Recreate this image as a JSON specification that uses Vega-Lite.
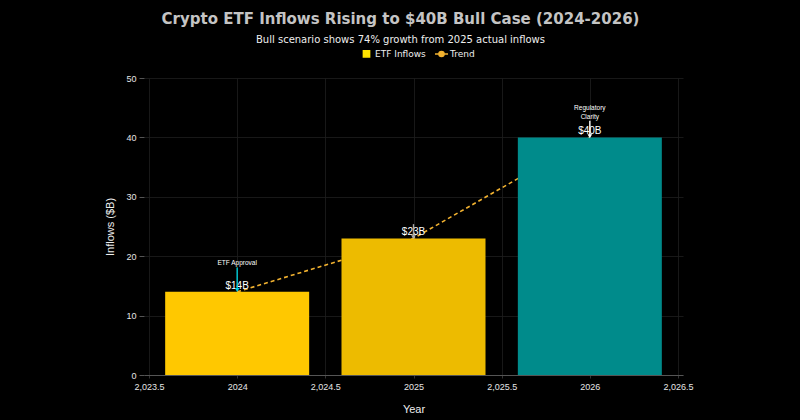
{
  "$schema": "https://vega.github.io/schema/vega-lite/v6.json",
  "autosize": {"type": "none"},
  "padding": {"left": 144, "top": 78, "right": 117, "bottom": 45},
  "width": 539,
  "height": 297,
  "background": "#000000",
  "title": {
    "text": "Crypto ETF Inflows Rising to $40B Bull Case (2024-2026)",
    "subtitle": "Bull scenario shows 74% growth from 2025 actual inflows",
    "anchor": "middle",
    "dx": -13,
    "font": "DejaVu Sans",
    "fontSize": 15,
    "fontWeight": "bold",
    "color": "#C4C4C4",
    "subtitleFont": "DejaVu Sans",
    "subtitleFontSize": 10,
    "subtitleColor": "#EEEEEE",
    "subtitlePadding": 8,
    "offset": 4
  },
  "datasets": {
    "bars": [
      {"Year": 2024, "Inflows": 14, "Label": "$14B"},
      {"Year": 2025, "Inflows": 23, "Label": "$23B"},
      {"Year": 2026, "Inflows": 40, "Label": "$40B"}
    ],
    "notes": [
      {"Year": 2024, "Text": "ETF Approval", "TextY": 18.3, "ArrowTop": 18.1, "ArrowTip": 14.3, "Kind": "approval"},
      {"Year": 2025, "Text": "", "TextY": 25.6, "ArrowTop": 25.4, "ArrowTip": 23.2, "Kind": "actual"},
      {"Year": 2026, "Text": "Regulatory\nClarity", "TextY": 44.4, "ArrowTop": 42.8, "ArrowTip": 40.2, "Kind": "clarity"}
    ]
  },
  "encoding": {
    "x": {
      "field": "Year",
      "type": "quantitative",
      "scale": {"domain": [2023.5, 2026.5], "nice": false, "zero": false},
      "axis": {
        "title": "Year",
        "values": [2023.5, 2024, 2024.5, 2025, 2025.5, 2026, 2026.5],
        "labelExpr": "datum.value % 1 === 0 ? format(datum.value, 'd') : format(datum.value, ',.1f')",
        "labelFont": "Liberation Sans",
        "labelFontSize": 9,
        "labelColor": "#E6E6E6",
        "labelPadding": 4,
        "titleFont": "Liberation Sans",
        "titleFontSize": 11,
        "titleFontWeight": "normal",
        "titleColor": "#EEEEEE",
        "titlePadding": 12,
        "domainColor": "#555555",
        "tickColor": "#333333",
        "tickSize": 3,
        "grid": true,
        "gridColor": "#1E1E1E",
        "gridWidth": 0.8
      }
    }
  },
  "layer": [
    {
      "data": {"name": "bars"},
      "mark": {"type": "line", "strokeDash": [4, 3], "strokeWidth": 1.6},
      "encoding": {
        "y": {
          "field": "Inflows",
          "type": "quantitative",
          "scale": {"domain": [0, 50], "nice": false},
          "axis": {
            "title": "Inflows ($B)",
            "values": [0, 10, 20, 30, 40, 50],
            "labelFont": "Liberation Sans",
            "labelFontSize": 9,
            "labelColor": "#E6E6E6",
            "labelPadding": 3,
            "titleFont": "Liberation Sans",
            "titleFontSize": 11,
            "titleFontWeight": "normal",
            "titleColor": "#EEEEEE",
            "titlePadding": 10,
            "domain": false,
            "tickColor": "#555555",
            "tickSize": 5,
            "grid": true,
            "gridColor": "#1E1E1E",
            "gridWidth": 0.8
          }
        },
        "color": {"datum": "Trend"}
      }
    },
    {
      "data": {"name": "bars"},
      "mark": {"type": "bar", "width": 144},
      "encoding": {
        "y": {"field": "Inflows", "type": "quantitative"},
        "color": {
          "field": "Year",
          "type": "nominal",
          "scale": {
            "domain": ["ETF Inflows", "Trend", 2024, 2025, 2026],
            "range": ["#FFE400", "#F2B230", "#FFC800", "#EDBB00", "#008B8B"]
          },
          "legend": {
            "values": ["ETF Inflows", "Trend"],
            "orient": "none",
            "legendX": 218,
            "legendY": -29,
            "direction": "horizontal",
            "title": null,
            "labelFont": "DejaVu Sans",
            "labelFontSize": 9,
            "labelColor": "#EEEEEE",
            "symbolSize": 60,
            "columnPadding": 6,
            "labelOffset": 4,
            "encode": {
              "symbols": {
                "update": {
                  "shape": {"signal": "datum.value === 'Trend' ? 'M-1,0L-0.4,0M0.4,0L1,0M0.4,0A0.4,0.4 0 1,1 -0.4,0A0.4,0.4 0 1,1 0.4,0' : 'square'"},
                  "size": {"signal": "datum.value === 'Trend' ? 170 : 40"},
                  "fill": {"signal": "datum.value === 'Trend' ? '#00E0E8' : '#FFE400'"},
                  "stroke": {"signal": "datum.value === 'Trend' ? '#F2C230' : 'transparent'"},
                  "strokeWidth": {"value": 1.4},
                  "opacity": {"value": 1}
                }
              }
            }
          }
        }
      }
    },
    {
      "data": {"name": "bars"},
      "mark": {"type": "text", "baseline": "bottom", "dy": -1, "font": "Liberation Sans", "fontSize": 10, "color": "#FFFFFF"},
      "encoding": {
        "y": {"field": "Inflows", "type": "quantitative"},
        "text": {"field": "Label"}
      }
    },
    {
      "data": {"name": "notes"},
      "mark": {"type": "rule", "strokeWidth": 1.4},
      "encoding": {
        "y": {"field": "ArrowTop", "type": "quantitative"},
        "y2": {"field": "ArrowTip"},
        "stroke": {
          "field": "Kind",
          "type": "nominal",
          "scale": {"domain": ["approval", "actual", "clarity"], "range": ["#00D0DC", "#AAAAAA", "#FFFFFF"]},
          "legend": null
        }
      }
    },
    {
      "data": {"name": "notes"},
      "mark": {"type": "point", "shape": "triangle-down", "size": 22, "filled": true, "opacity": 1},
      "encoding": {
        "y": {"field": "ArrowTip", "type": "quantitative"},
        "fill": {
          "field": "Kind",
          "type": "nominal",
          "scale": {"domain": ["approval", "actual", "clarity"], "range": ["#00D0DC", "#AAAAAA", "#FFFFFF"]},
          "legend": null
        }
      }
    },
    {
      "data": {"name": "notes"},
      "mark": {"type": "text", "baseline": "bottom", "lineBreak": "\n", "lineHeight": 8.5, "font": "Liberation Sans", "fontSize": 6.5, "color": "#FFFFFF"},
      "encoding": {
        "y": {"field": "TextY", "type": "quantitative"},
        "text": {"field": "Text"}
      }
    }
  ],
  "config": {
    "view": {"stroke": null},
    "axis": {"labelFlush": false}
  }
}
